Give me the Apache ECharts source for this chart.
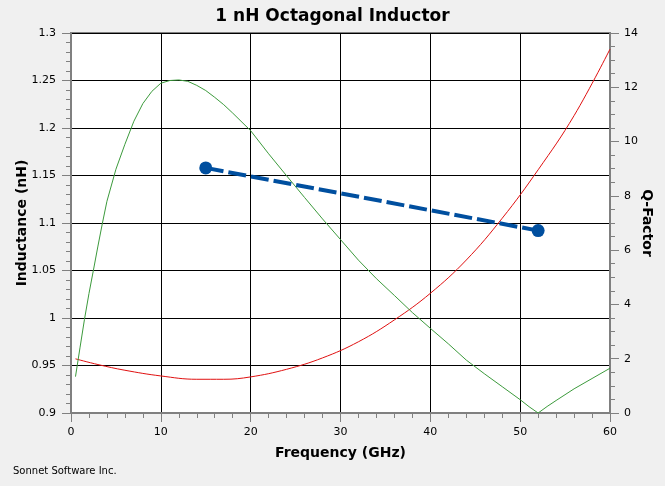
<!DOCTYPE html>
<html>
<head>
<meta charset="utf-8">
<script src="https://cdn.jsdelivr.net/npm/echarts@6/dist/echarts.min.js"></script>
<style>
html,body{margin:0;padding:0;background:#f0f0f0;}
#c{width:665px;height:486px;}
</style>
</head>
<body>
<div id="c"></div>
<script>
// Inductance (left axis), red
var indFreq = [0.5, 3, 6, 10, 14, 17, 20, 24, 28, 32, 36, 40, 44, 48, 52, 56, 60];
var indVal  = [0.957, 0.951, 0.945, 0.939, 0.9355, 0.9355, 0.938, 0.946, 0.958, 0.975, 0.998, 1.026, 1.061, 1.105, 1.156, 1.213, 1.283];

// Q-Factor (right axis), green
var qFreq = [0.5, 1, 1.5, 2, 2.5, 3, 3.5, 4, 5, 6, 7, 8, 9, 10, 11, 12, 13, 14, 15, 16, 17, 18, 20, 22, 24, 26, 28, 30, 32, 34, 36, 38, 40, 42, 44, 46, 48, 50, 51, 52, 53, 54, 56, 58, 60];
var qVal  = [1.34, 2.4, 3.45, 4.4, 5.27, 6.15, 7.0, 7.8, 8.98, 9.9, 10.75, 11.4, 11.85, 12.15, 12.25, 12.27, 12.22, 12.07, 11.88, 11.63, 11.36, 11.05, 10.4, 9.55, 8.74, 7.94, 7.15, 6.39, 5.63, 4.95, 4.33, 3.7, 3.12, 2.55, 1.95, 1.45, 0.97, 0.49, 0.23, 0, 0.24, 0.46, 0.89, 1.27, 1.65];

// Blue dashed marker line (left axis)
var markFreq = [15, 52];
var markVal  = [1.158, 1.092];

// Axis settings
var xMin = 0, xMax = 60, xStep = 10;
var lMin = 0.9, lMax = 1.3, lStep = 0.05;
var rMin = 0, rMax = 14, rStep = 2;

function pairs(xs, ys){ return xs.map(function(x,i){ return [x, ys[i]]; }); }

var FONT = 'DejaVu Sans';
var chart = echarts.init(document.getElementById('c'), null, {renderer:'canvas'});
chart.setOption({
  animation: false,
  backgroundColor: '#f0f0f0',
  textStyle: {fontFamily: FONT},
  title: {
    text: '1 nH Octagonal Inductor',
    left: 'center', top: 3,
    textStyle: {fontFamily: FONT, fontSize: 17, fontWeight: 'bold', color: '#000'}
  },
  graphic: [{
    type: 'text', left: 13, top: 466,
    style: {text: 'Sonnet Software Inc.', font: '10px "DejaVu Sans"', fill: '#000'}
  }],
  grid: {
    left: 71, right: 55, top: 33, bottom: 73,
    containLabel: false, outerBoundsMode: 'none',
    show: true, backgroundColor: '#ffffff', borderColor: '#808080', borderWidth: 2
  },
  xAxis: {
    type: 'value', min: xMin, max: xMax, interval: xStep,
    name: 'Frequency (GHz)', nameLocation: 'middle', nameGap: 33, nameMoveOverlap: false,
    nameTextStyle: {fontFamily: FONT, fontSize: 14, fontWeight: 'bold', color: '#000'},
    axisLine: {show: true, onZero: false, lineStyle: {color: '#808080', width: 2}},
    axisTick: {show: true, length: 9, lineStyle: {color: '#808080'}},
    minorTick: {show: true, splitNumber: 5, length: 5, lineStyle: {color: '#808080'}},
    axisLabel: {margin: 14, fontSize: 11, color: '#000', fontFamily: FONT},
    splitLine: {show: true, lineStyle: {color: '#000', width: 1}}
  },
  yAxis: [{
    type: 'value', position: 'left', min: lMin, max: lMax, interval: lStep,
    name: 'Inductance (nH)', nameLocation: 'middle', nameGap: 42, nameMoveOverlap: false,
    nameTextStyle: {fontFamily: FONT, fontSize: 14, fontWeight: 'bold', color: '#000'},
    axisLine: {show: true, lineStyle: {color: '#808080', width: 2}},
    axisTick: {show: true, length: 9, lineStyle: {color: '#808080'}},
    minorTick: {show: true, splitNumber: 5, length: 5, lineStyle: {color: '#808080'}},
    axisLabel: {margin: 15, fontSize: 11, color: '#000', fontFamily: FONT,
      formatter: function(v){ return String(Math.round(v*100)/100); }},
    splitLine: {show: true, lineStyle: {color: '#000', width: 1}}
  }, {
    type: 'value', position: 'right', min: rMin, max: rMax, interval: rStep,
    name: 'Q-Factor', nameLocation: 'middle', nameGap: 30, nameRotate: -90, nameMoveOverlap: false,
    nameTextStyle: {fontFamily: FONT, fontSize: 14, fontWeight: 'bold', color: '#000'},
    axisLine: {show: true, lineStyle: {color: '#808080', width: 2}},
    axisTick: {show: true, length: 9, lineStyle: {color: '#808080'}},
    minorTick: {show: true, splitNumber: 4, length: 5, lineStyle: {color: '#808080'}},
    axisLabel: {margin: 14, fontSize: 11, color: '#000', fontFamily: FONT},
    splitLine: {show: false}
  }],
  series: [{
    name: 'Inductance', type: 'line', yAxisIndex: 0,
    data: pairs(indFreq, indVal), smooth: 0.4, showSymbol: false,
    lineStyle: {color: '#e01010', width: 1}, z: 3
  }, {
    name: 'Q', type: 'line', yAxisIndex: 1,
    data: pairs(qFreq, qVal), smooth: false, showSymbol: false,
    lineStyle: {color: '#3c9a3c', width: 1}, z: 3
  }, {
    name: 'Marker', type: 'line', yAxisIndex: 0,
    data: pairs(markFreq, markVal), symbol: 'circle', symbolSize: 13, showSymbol: true,
    itemStyle: {color: '#004f9f'},
    lineStyle: {color: '#004f9f', width: 4, type: [18, 5]}, z: 5
  }]
});
</script>
</body>
</html>
